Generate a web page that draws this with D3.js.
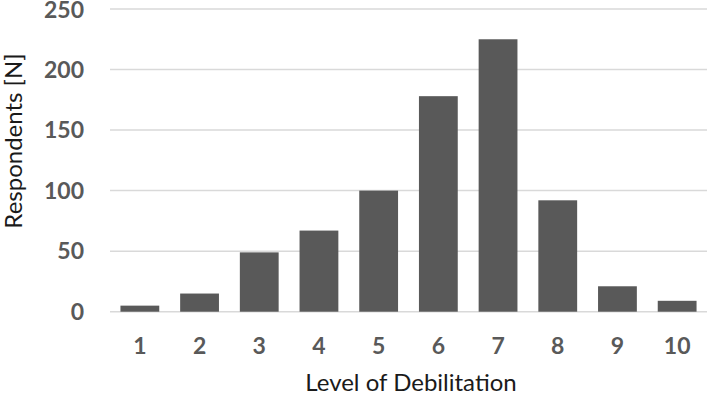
<!DOCTYPE html>
<html>
<head>
<meta charset="utf-8">
<style>
body { margin: 0; background: #ffffff; }
.tick-label { font-family: Lato, "Open Sans", sans-serif; font-weight: bold; font-size: 23px; fill: #595959; }
.axis-title { font-family: Lato, "Open Sans", sans-serif; font-size: 24px; fill: #1a1a1a; }
</style>
<script src="https://d3js.org/d3.v7.min.js"></script>
</head>
<body>
<script>
var levels = ["1", "2", "3", "4", "5", "6", "7", "8", "9", "10"];
var respondents = [5, 15, 49, 67, 100, 178, 225, 92, 21, 9];
var yTicks = [0, 50, 100, 150, 200, 250];

var width = 708, height = 395;
var plotLeft = 110, plotRight = 707, plotTop = 9, plotBottom = 311.7;

var svg = d3.select("body").append("svg")
    .attr("width", width)
    .attr("height", height);

var x = d3.scaleBand()
    .domain(levels)
    .range([plotLeft, plotRight])
    .paddingInner(0.35)
    .paddingOuter(0.175);

var y = d3.scaleLinear()
    .domain([0, 250])
    .range([plotBottom, plotTop]);

// gridlines
svg.selectAll(".grid")
  .data(yTicks)
  .enter().append("line")
  .attr("x1", plotLeft)
  .attr("x2", plotRight)
  .attr("y1", function(d) { return y(d); })
  .attr("y2", function(d) { return y(d); })
  .attr("stroke", "#d9d9d9")
  .attr("stroke-width", 1.5);

// y labels
svg.selectAll(".ylab")
  .data(yTicks)
  .enter().append("text")
  .attr("class", "tick-label")
  .attr("x", 84)
  .attr("y", function(d) { return Math.max(y(d), 10); })
  .attr("dy", "0.36em")
  .attr("text-anchor", "end")
  .text(function(d) { return d; });

// bars
svg.selectAll(".bar")
  .data(respondents)
  .enter().append("rect")
  .attr("x", function(d, i) { return x(levels[i]); })
  .attr("width", x.bandwidth())
  .attr("y", function(d) { return y(d); })
  .attr("height", function(d) { return y(0) - y(d); })
  .attr("fill", "#595959");

// x labels
svg.selectAll(".xlab")
  .data(levels)
  .enter().append("text")
  .attr("class", "tick-label")
  .attr("x", function(d) { return x(d) + x.bandwidth() / 2; })
  .attr("y", 346)
  .attr("dy", "0.36em")
  .attr("text-anchor", "middle")
  .text(function(d) { return d; });

svg.append("text")
  .attr("class", "axis-title")
  .attr("x", 411)
  .attr("y", 382)
  .attr("dy", "0.36em")
  .attr("text-anchor", "middle")
  .text("Level of Debilitation");

svg.append("text")
  .attr("class", "axis-title")
  .attr("transform", "translate(13,141) rotate(-90)")
  .attr("dy", "0.36em")
  .attr("text-anchor", "middle")
  .text("Respondents [N]");
</script>
</body>
</html>
